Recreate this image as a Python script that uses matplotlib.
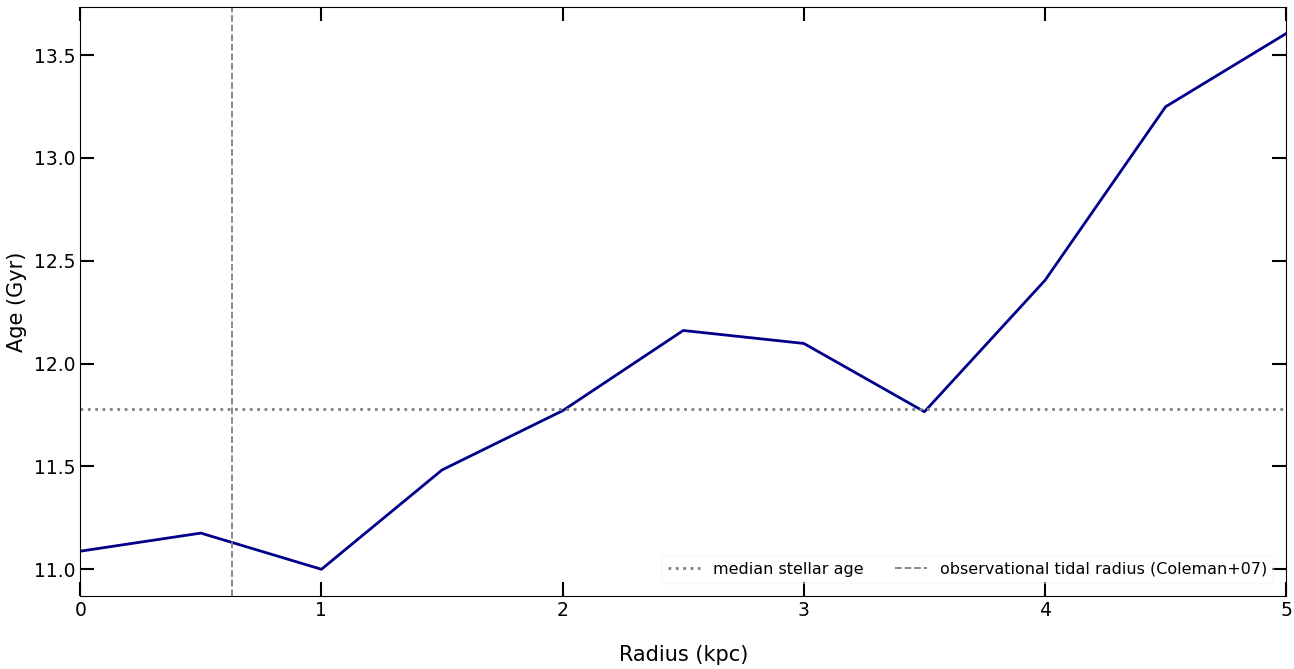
import numpy as np
import matplotlib
matplotlib.use('Agg')
import matplotlib.pyplot as plt

# radial age profile
radius = [0.0, 0.5, 1.0, 1.5, 2.0, 2.5, 3.0, 3.5, 4.0, 4.5, 5.0]
age = [11.088, 11.176, 11.00, 11.483, 11.771, 12.161, 12.098, 11.766, 12.405, 13.249, 13.605]

median_age = 11.78
tidal_radius = 0.63  # Coleman+07

fig, ax = plt.subplots(figsize=(12.94, 6.69), dpi=100)

ax.plot(radius, age, color='darkblue', lw=2)
ax.axhline(median_age, color='grey', ls=':', lw=2, label='median stellar age')
ax.axvline(tidal_radius, color='grey', ls='--', lw=1.3, label='observational tidal radius (Coleman+07)')

ax.set_xlim(0, 5)
ax.set_xlabel('Radius (kpc)', fontsize=15, labelpad=18)
ax.set_ylabel('Age (Gyr)', fontsize=15, labelpad=5)
ax.set_yticks([11.0, 11.5, 12.0, 12.5, 13.0, 13.5])
ax.tick_params(direction='in', length=10, width=1.5, labelsize=13.5,
               top=True, right=True, pad=3.5)

leg = ax.legend(loc='lower right', ncol=2, fontsize=11.5, framealpha=0.4,
                edgecolor='#eeeeee', borderaxespad=0.8)

plt.subplots_adjust(left=0.062, right=0.994, top=0.99, bottom=0.109)
plt.savefig('out.png', dpi=100)
